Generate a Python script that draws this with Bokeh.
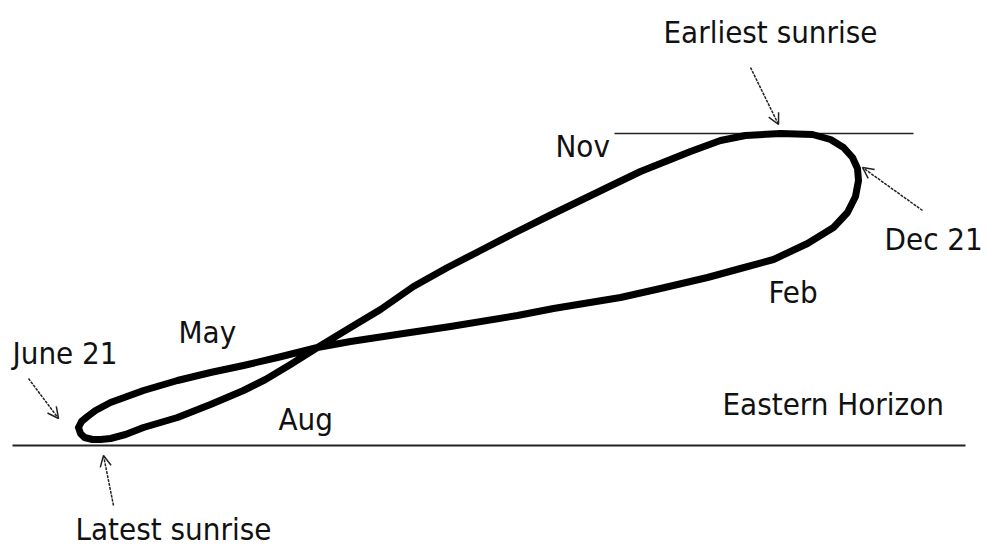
from bokeh.plotting import figure
from bokeh.models import Range1d, Arrow, OpenHead, ColumnDataSource
from bokeh.core.properties import value
from bokeh.embed import file_html
from bokeh.resources import INLINE

# Analemma path traced in picture coordinates (x right, y down), in date order
# June 21 -> Aug -> Nov -> earliest sunrise -> Dec 21 -> Feb -> May -> June 21
curve_x = [78, 80, 84, 92, 100, 110, 125, 143, 177, 210, 243, 265, 290, 317, 350, 380,
           413, 447, 480, 513, 547, 580, 613, 640, 690, 720, 745, 780, 812, 830, 843,
           852, 857, 858, 855, 847, 833, 807, 773, 740, 707, 660, 620, 553, 517, 450,
           403, 350, 317, 277, 243, 210, 177, 143, 110, 95, 87, 81, 78]
curve_y = [427, 433, 437, 439, 439, 438, 434, 427, 417, 404, 390, 379, 364, 347, 327, 309,
           286, 267, 250, 233, 216, 200, 184, 171, 151, 140, 135, 133, 134, 139, 147,
           157, 168, 180, 196, 212, 227, 243, 259, 268, 277, 288, 297, 308, 315, 326,
           333, 341, 347, 357, 365, 372, 380, 390, 402, 410, 416, 421, 427]

# Reference lines
horizon_x = [12, 965]
horizon_y = [445, 445]
top_x = [614, 913]
top_y = [133, 133]

# Labels (left edge, baseline)
label_text = ["Earliest sunrise", "Nov", "Dec 21", "Feb", "May", "June 21", "Aug",
              "Eastern Horizon", "Latest sunrise"]
label_x = [663, 555, 884, 768, 178, 12, 278, 722, 75]
label_y = [43, 157, 250, 303, 343, 364, 430, 415, 540]
label_shift = 12

# Pointer arrows (tail -> tip)
arrow_x0 = [750, 922, 28, 113]
arrow_y0 = [67, 210, 378, 505]
arrow_x1 = [778, 862, 58, 103]
arrow_y1 = [124, 167, 418, 455]

p = figure(width=989, height=548, output_backend="svg", toolbar_location=None,
           x_range=Range1d(0, 989), y_range=Range1d(548, 0), min_border=0)
p.axis.visible = False
p.grid.visible = False
p.outline_line_color = None
p.background_fill_color = "white"
p.border_fill_color = "white"

p.line(horizon_x, horizon_y, line_color="#222222", line_width=2)
p.line(top_x, top_y, line_color="#222222", line_width=1.5)
p.line(curve_x, curve_y, line_color="black", line_width=7, line_join="round", line_cap="round")

src = ColumnDataSource(dict(x=label_x, y=[v - label_shift for v in label_y], t=label_text))
p.text(x="x", y="y", text="t", source=src, text_font=value("DejaVu Sans Condensed"),
       text_font_size="31px", text_color="#111111", text_align="left",
       text_baseline="alphabetic")

for x0, y0, x1, y1 in zip(arrow_x0, arrow_y0, arrow_x1, arrow_y1):
    p.add_layout(Arrow(x_start=x0, y_start=y0, x_end=x1, y_end=y1,
                       line_color="#222222", line_width=1.5, line_dash="3 1",
                       end=OpenHead(size=11, line_width=1.5, line_color="#222222")))

open("out.html", "w").write(file_html(p, INLINE))
